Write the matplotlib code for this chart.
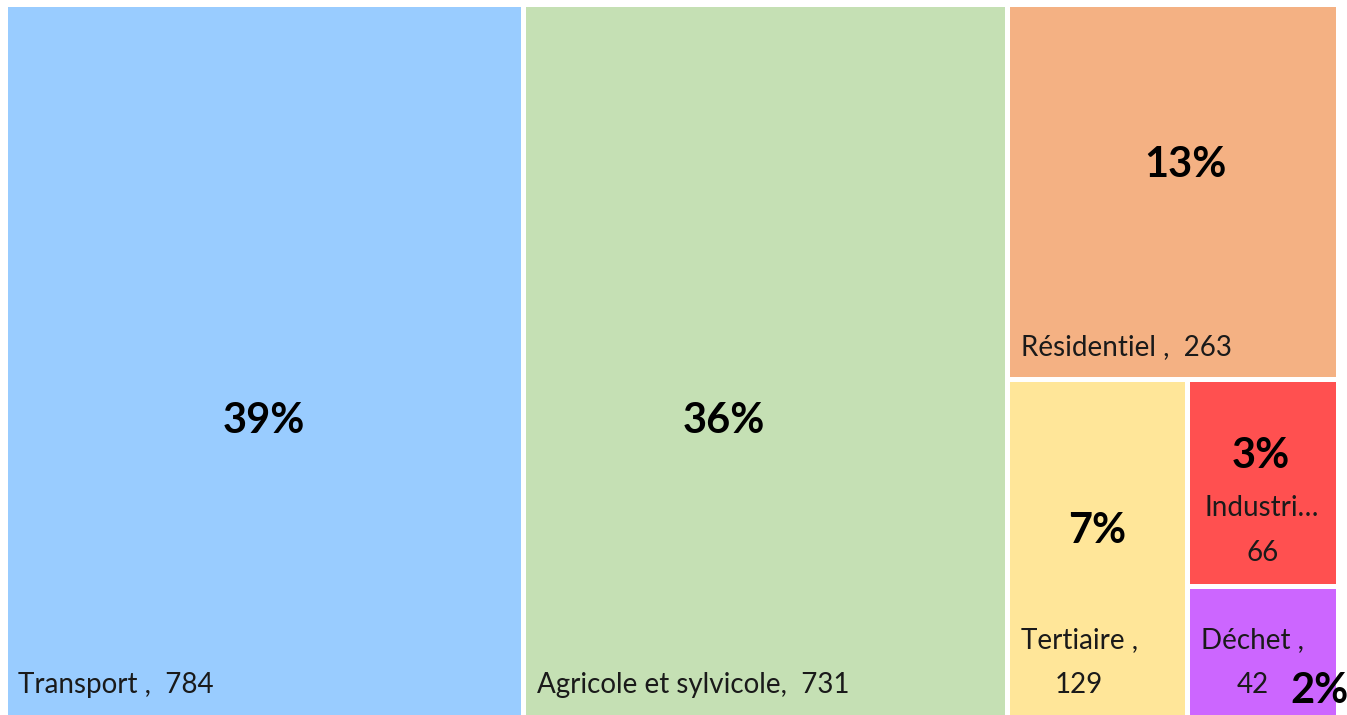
import matplotlib.pyplot as plt
from matplotlib.patches import Rectangle

# data
categories = ["Transport", "Agricole et sylvicole", "Résidentiel", "Tertiaire", "Industrie", "Déchet"]
values = [784, 731, 263, 129, 66, 42]
pct_labels = ["39%", "36%", "13%", "7%", "3%", "2%"]
colors = ["#99CCFF", "#C5E0B4", "#F4B183", "#FFE699", "#FF5050", "#CC66FF"]

# slice-and-dice nesting (h = side by side, v = stacked), leaves are indices
tree = ["h", 0, 1, ["v", 2, ["h", 3, ["v", 4, 5]]]]

# text box styles: label text, label anchor mode, percent position as fraction of box
box_labels = ["Transport ,  784", "Agricole et sylvicole,  731", "Résidentiel ,  263",
              "Tertiaire ,\n129", "Industri…\n66", "Déchet ,\n42"]
label_mode = ["left", "left", "left", "left", "center", "left"]
pct_pos = [(0.50, 0.585), (0.415, 0.585), (0.54, 0.43), (0.50, 0.45), (0.49, 0.37), (0.88, 0.80)]

W, H = 1347, 715
plt.rcParams['font.family'] = ['Lato', 'DejaVu Sans']


def total(node):
    if isinstance(node, int):
        return values[node]
    return sum(total(n) for n in node[1:])


def layout(node, x, y, w, h, out):
    if isinstance(node, int):
        out[node] = (x, y, w, h)
        return
    direction = node[0]
    s = total(node)
    pos = x if direction == "h" else y
    for child in node[1:]:
        frac = total(child) / s
        if direction == "h":
            layout(child, pos, y, w * frac, h, out)
            pos += w * frac
        else:
            layout(child, x, pos, w, h * frac, out)
            pos += h * frac


rects = {}
layout(tree, 4.5, 3.5, 1333, 714, rects)

fig = plt.figure(figsize=(W / 100, H / 100), dpi=100)
ax = fig.add_axes([0, 0, 1, 1])
ax.set_xlim(0, W)
ax.set_ylim(H, 0)
ax.axis('off')
renderer = fig.canvas.get_renderer()

for i in range(len(values)):
    x, y, w, h = rects[i]
    ax.add_patch(Rectangle((x, y), w, h, facecolor=colors[i], edgecolor='white', linewidth=3.6))

    # category label, one text per line, last line sitting near the bottom of the box
    lines = box_labels[i].split('\n')
    texts = []
    for k, line in enumerate(lines):
        base = y + h - 24.5 - 45 * (len(lines) - 1 - k)
        texts.append(ax.text(x, base, line, ha='center', va='baseline', fontsize=20, color='#1a1a1a'))
    widths = [t.get_window_extent(renderer).width for t in texts]
    if label_mode[i] == "left":
        cx = x + 14 + max(widths) / 2
    else:
        cx = x + w / 2
    for t in texts:
        t.set_x(cx)

    fx, fy = pct_pos[i]
    ax.text(x + w * fx, y + h * fy, pct_labels[i], ha='center', va='center', fontsize=30,
            fontweight='bold', color='black', clip_on=False)

fig.savefig("out.png", dpi=100)
